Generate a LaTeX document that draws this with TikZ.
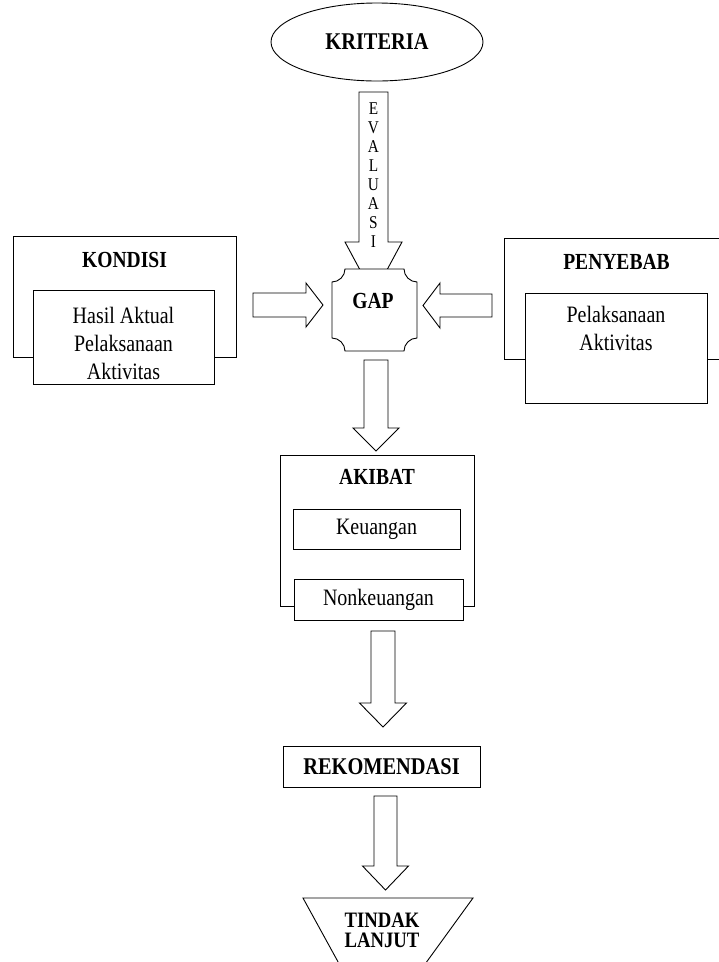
\documentclass[tikz,border=0pt]{standalone}
\usepackage{fontspec}
\setmainfont{Liberation Serif}[FakeStretch=0.85]
\usetikzlibrary{calc,shapes.geometric}

% big hollow arrow: from, to, shaft half width, head half width, head length
\newcommand{\blockarrow}[5]{%
  \coordinate (ba-base) at ($(#2)!#5!(#1)$);
  \draw[bigarr] ($(#1)!#3!90:(#2)$) -- ($(ba-base)!#3!90:(#2)$)
    -- ($(ba-base)!#4!90:(#2)$) -- (#2) -- ($(ba-base)!#4!-90:(#2)$)
    -- ($(ba-base)!#3!-90:(#2)$) -- ($(#1)!#3!-90:(#2)$) -- cycle;}

\begin{document}
\begin{tikzpicture}[x=1pt,y=-1pt,
  every node/.style={inner sep=0pt},
  frame/.style={draw,line width=0.9pt,fill=white},
  bigarr/.style={line width=0.9pt,draw,fill=white},
  ttl/.style={font=\fontsize{23}{27}\selectfont\bfseries},
  bigttl/.style={font=\fontsize{24}{28}\selectfont\bfseries},
  txt/.style={font=\fontsize{23.5}{28}\selectfont,align=center}
]
  \clip (0,0) rectangle (719,962);

  \node[draw,ellipse,line width=0.9pt,minimum width=212pt,minimum height=78pt,bigttl]
    (kriteria) at (377,42) {KRITERIA};

  \coordinate (ev1) at (373.5,92);
  \coordinate (ev2) at (373.5,295);
  \blockarrow{ev1}{ev2}{14.5pt}{28.5pt}{53pt}
  \node[font=\fontsize{18}{19}\selectfont,align=center] (evaluasi) at (373.5,175.5)
    {E\\V\\A\\L\\U\\A\\S\\I};

  \coordinate (kg1) at (253,305);
  \coordinate (kg2) at (323,305);
  \blockarrow{kg1}{kg2}{12pt}{22pt}{17pt}
  \coordinate (pg1) at (492,305.5);
  \coordinate (pg2) at (423,305.5);
  \blockarrow{pg1}{pg2}{11.5pt}{22.5pt}{17pt}

  \draw[frame] (345,269) -- (404,269) .. controls (404,276) and (410,282) .. (417,282)
    -- (417,338) .. controls (410,338) and (404,344) .. (404,351)
    -- (345,351) .. controls (345,344) and (339,338) .. (332,338)
    -- (332,282) .. controls (339,282) and (345,276) .. (345,269) -- cycle;
  \node[ttl] (gap) at (373,301) {GAP};

  \node[frame,minimum width=223pt,minimum height=121pt,
    label={[ttl,anchor=north,yshift=-17pt]north:KONDISI}] (kondisi) at (124.5,296.5) {};
  \node[frame,minimum width=181pt,minimum height=94pt,
    label={[txt,anchor=north,yshift=-17pt]north:Hasil Aktual\\Pelaksanaan\\Aktivitas}]
    (hasil) at (123.5,337) {};

  \node[frame,minimum width=225pt,minimum height=121pt,
    label={[ttl,anchor=north,yshift=-17pt]north:PENYEBAB}] (penyebab) at (616.5,298.5) {};
  \node[frame,minimum width=182pt,minimum height=110pt,
    label={[txt,anchor=north,yshift=-13pt]north:Pelaksanaan\\Aktivitas}]
    (pelaksanaan) at (616,348) {};

  \coordinate (ga1) at (376,360);
  \coordinate (ga2) at (376,451);
  \blockarrow{ga1}{ga2}{12pt}{23pt}{23pt}

  \node[frame,minimum width=194pt,minimum height=151pt,
    label={[ttl,anchor=north,yshift=-15pt]north:AKIBAT}] (akibat) at (377,530.5) {};
  \node[frame,txt,minimum width=167pt,minimum height=40pt] (keuangan) at (376.5,529) {Keuangan};
  \node[frame,txt,minimum width=169pt,minimum height=41pt] (nonkeuangan) at (378.5,599.5) {Nonkeuangan};

  \coordinate (ar1) at (383,631);
  \coordinate (ar2) at (383,727);
  \blockarrow{ar1}{ar2}{12pt}{23.5pt}{24pt}

  \node[frame,bigttl,minimum width=197pt,minimum height=41pt] (rekomendasi) at (381.5,767) {REKOMENDASI};

  \coordinate (rt1) at (385.5,796);
  \coordinate (rt2) at (385.5,890);
  \blockarrow{rt1}{rt2}{11.5pt}{23pt}{24pt}

  \draw[frame] (303,898) -- (473,898) -- (413.5,980) -- (348,980) -- cycle;
  \node[font=\fontsize{22}{20}\selectfont\bfseries,align=center] (tindak) at (382,930)
    {TINDAK\\LANJUT};
\end{tikzpicture}
\end{document}
